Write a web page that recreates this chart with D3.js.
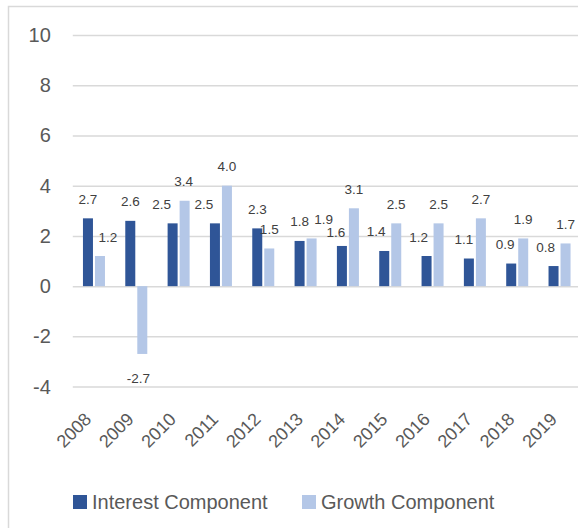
<!DOCTYPE html>
<html><head><meta charset="utf-8">
<script src="https://cdn.jsdelivr.net/npm/d3@7"></script>
<style>body{margin:0;background:#fff}svg{display:block}text{font-family:"Liberation Sans",Arial,sans-serif}</style>
</head><body>
<svg id="c" width="578" height="528"></svg>
<script>
const years = ["2008","2009","2010","2011","2012","2013","2014","2015","2016","2017","2018","2019"];
const interest = [2.7,2.6,2.5,2.5,2.3,1.8,1.6,1.4,1.2,1.1,0.9,0.8];
const growth = [1.2,-2.7,3.4,4.0,1.5,1.9,3.1,2.5,2.5,2.7,1.9,1.7];
const seriesNames = ["Interest Component","Growth Component"];
const yTicks = [-4,-2,0,2,4,6,8,10];
// manual label nudges (as in the original, labels moved to avoid overlap)
const nudgeInterest = [0,0,-11,-11,0,0,-6,-8,-8,-5,-6,-8];
const nudgeGrowth = [8,-4,-1,0,0,12,0,0,0,0,0,0];
const nudgeInterestY = [0,0,0,0,0,0,6,0,0,0,0,0];

const colors = ["#2F5597","#B4C7E7"];
const hy = s => s.replace("\u2212","-");
const svg = d3.select("#c");
svg.append("rect").attr("x",8.5).attr("y",6.5).attr("width",600).attr("height",600)
  .attr("fill","none").attr("stroke","#D9D9D9").attr("stroke-width",1.5);

const x0 = d3.scaleBand().domain(years).range([72.8,580.7]).paddingInner(0.48).paddingOuter(0.24);
const x1 = d3.scaleBand().domain(seriesNames).range([0,x0.bandwidth()]).paddingInner(0.1667);
const y = d3.scaleLinear().domain([-4,10]).range([386.6,35]);

const yAxis = d3.axisLeft(y).tickValues(yTicks).tickSize(-(580.7-72.8)).tickFormat(d=>hy(d3.format("d")(d)));
const gy = svg.append("g").attr("transform","translate(72.8,0)").call(yAxis);
gy.select(".domain").remove();
gy.selectAll(".tick line").attr("stroke","#D9D9D9").attr("stroke-width",1.5);
gy.selectAll(".tick text").attr("x",-22).attr("fill","#595959").style("font-size","20px");

const data = years.map((yr,i)=>({yr, vals:[interest[i],growth[i]], nud:[nudgeInterest[i],nudgeGrowth[i]], nudY:[nudgeInterestY[i],0]}));
const groups = svg.append("g").selectAll("g").data(data).join("g")
  .attr("transform",d=>`translate(${x0(d.yr)},0)`);
groups.selectAll("rect").data(d=>d.vals.map((v,j)=>({v,j}))).join("rect")
  .attr("x",d=>x1(seriesNames[d.j])).attr("width",x1.bandwidth())
  .attr("y",d=>y(Math.max(0,d.v))).attr("height",d=>Math.abs(y(d.v)-y(0)))
  .attr("fill",d=>colors[d.j]);
groups.selectAll("text").data(d=>d.vals.map((v,j)=>({v,j,n:d.nud[j],ny:d.nudY[j]}))).join("text")
  .attr("x",d=>x1(seriesNames[d.j])+x1.bandwidth()/2+d.n)
  .attr("y",d=>d.v>=0 ? y(d.v)-14.5+d.ny : y(d.v)+29.5)
  .attr("text-anchor","middle").attr("fill","#404040").style("font-size","13.5px")
  .text(d=>hy(d3.format(".1f")(d.v)));

// x axis labels
svg.append("g").selectAll("text").data(years).join("text")
  .attr("transform",d=>`translate(${x0(d)+x0.bandwidth()/2-6},416) rotate(-45)`)
  .attr("text-anchor","end").attr("dy","0.35em").attr("fill","#595959").style("font-size","18px")
  .text(d=>d);

// legend
const leg = svg.append("g");
const legX = [73,302];
seriesNames.forEach((s,i)=>{
  leg.append("rect").attr("x",legX[i]).attr("y",495).attr("width",14).attr("height",14).attr("fill",colors[i]);
  leg.append("text").attr("x",legX[i]+19).attr("y",509).attr("fill","#595959").style("font-size","20px").text(s);
});
</script>
</body></html>
